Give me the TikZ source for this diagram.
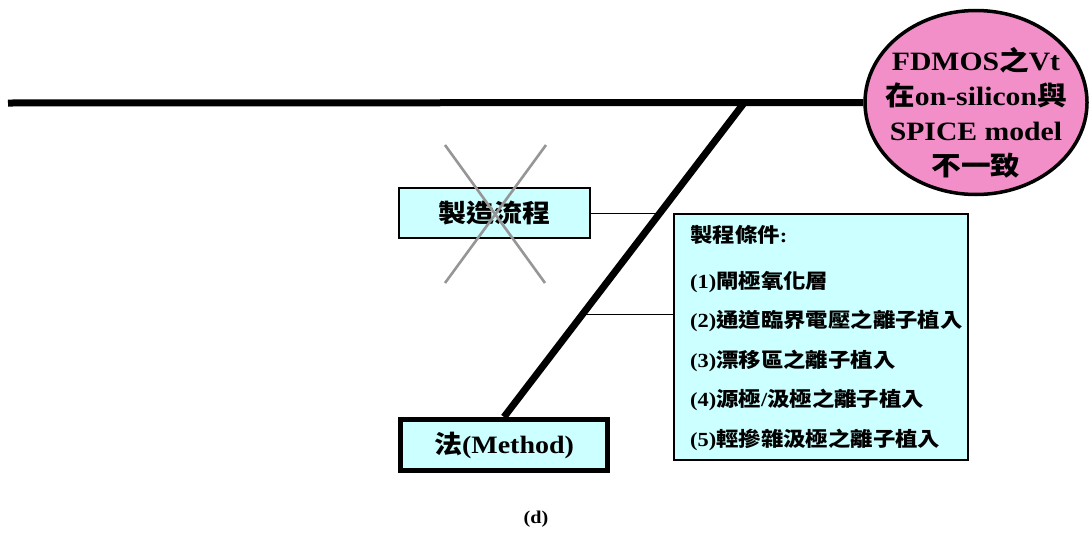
\documentclass[tikz,border=0pt]{standalone}
\usepackage{fontspec}
\setmainfont{Liberation Serif}[FakeStretch=1.12]
\newfontfamily\cjk{Noto Sans CJK TC}[FakeStretch=1.12]
\newcommand\zh[1]{{\cjk\bfseries #1}}
\usetikzlibrary{calc,shapes.geometric}
\definecolor{pinkfill}{RGB}{243,143,200}
\definecolor{cyanfill}{RGB}{204,255,255}
\definecolor{xgray}{RGB}{150,150,150}
\tikzset{
  bone/.style={line width=7pt},
  twig/.style={line width=1pt},
  box/.style={draw, line width=1.3pt, fill=cyanfill, inner sep=0pt},
  crossline/.style={draw=xgray, line width=2.6pt},
  effectshape/.style={ellipse, draw, line width=3.5pt, fill=pinkfill, inner sep=0pt},
}
\begin{document}
\begin{tikzpicture}[x=1pt,y=-1pt]
\useasboundingbox (0,0) rectangle (1091,533);
% effect (head)
\node[effectshape, minimum width=222pt, minimum height=184pt] (effect) at (976,102.5) {};
\node[align=center, font=\bfseries\fontsize{26.5}{35}\selectfont] (effecttext) at (976,113)
  {FDMOS\zh{之}Vt\\\zh{在}on-silicon\zh{與}\\SPICE model\\\zh{不一致}};
% spine
\coordinate (tail) at (8,103);
\draw[bone] (tail) -- (effect.west);
% method box and bone
\node[box, line width=5pt, minimum width=207pt, minimum height=51pt, font=\bfseries\fontsize{25}{30}\selectfont] (method) at (504,445) {\zh{法}(Method)};
\coordinate (dtop) at (744,103);
\draw[bone] (dtop) -- (method.north);
% sub-causes
\node[box, minimum width=191pt, minimum height=50pt, font=\bfseries\fontsize{25}{30}\selectfont] (proc) at (494.5,213) {\zh{製造流程}};
\node[box, minimum width=294pt, minimum height=246pt] (cond) at (821,337) {};
\node[anchor=west, align=left, inner sep=0pt, font=\bfseries\fontsize{20}{39.5}\selectfont] (condtext) at (690,338)
  {\zh{製程條件}:\\[6pt](1)\zh{閘極氧化層}\\(2)\zh{通道臨界電壓之離子植入}\\(3)\zh{漂移區之離子植入}\\(4)\zh{源極}/\zh{汲極之離子植入}\\(5)\zh{輕摻雜汲極之離子植入}};
% connectors
\coordinate (j1) at ($(dtop)!0.347!(method.north)$);
\coordinate (j2) at ($(dtop)!0.672!(method.north)$);
\draw[twig] (proc.east) -- (proc.east -| j1);
\draw[twig] (j2) -- (j2 -| cond.west);
% cross-out
\coordinate (x1) at (445,145);
\coordinate (x2) at (545,283);
\coordinate (x3) at (546,145);
\coordinate (x4) at (445,283);
\draw[crossline] (x1) -- (x2);
\draw[crossline] (x3) -- (x4);
% caption
\node[font=\bfseries\fontsize{18}{22}\selectfont] (caption) at (536,519) {(d)};
\end{tikzpicture}
\end{document}
